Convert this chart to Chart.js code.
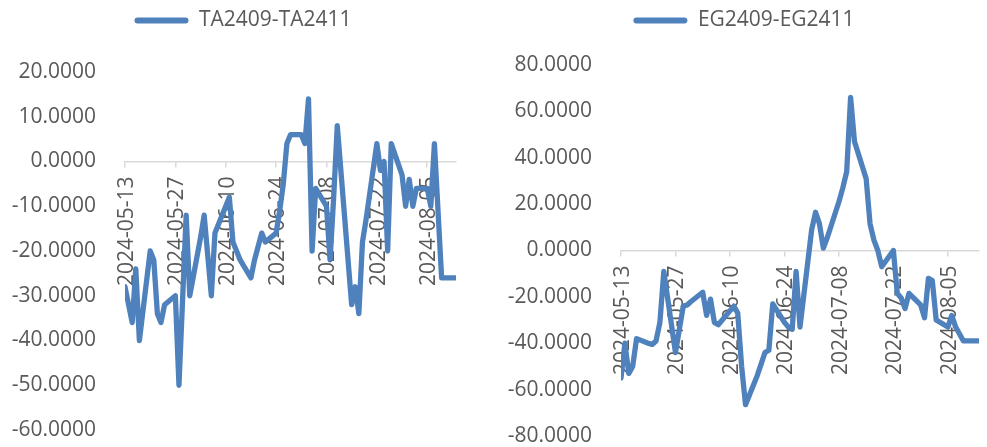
<!DOCTYPE html>
<html>
<head>
<meta charset="utf-8">
<script src="https://cdn.jsdelivr.net/npm/chart.js@4.4.1/dist/chart.umd.min.js"></script>
<style>
  html, body { margin: 0; padding: 0; background: #ffffff; }
  body { width: 987px; height: 447px; position: relative; overflow: hidden; }
  canvas { position: absolute; top: 0; }
</style>
</head>
<body>
<canvas id="left" width="486" height="447" style="left:0px"></canvas>
<canvas id="right" width="486" height="447" style="left:501px"></canvas>
<script>
// ---- data ----
const dates = [
  '2024-05-13','2024-05-14','2024-05-15','2024-05-16','2024-05-17',
  '2024-05-20','2024-05-21','2024-05-22','2024-05-23','2024-05-24',
  '2024-05-27','2024-05-28','2024-05-29','2024-05-30','2024-05-31',
  '2024-06-03','2024-06-04','2024-06-05','2024-06-06','2024-06-07',
  '2024-06-11','2024-06-12','2024-06-13','2024-06-14',
  '2024-06-17','2024-06-18','2024-06-19','2024-06-20','2024-06-21',
  '2024-06-24','2024-06-25','2024-06-26','2024-06-27','2024-06-28',
  '2024-07-01','2024-07-02','2024-07-03','2024-07-04','2024-07-05',
  '2024-07-08','2024-07-09','2024-07-10','2024-07-11','2024-07-12',
  '2024-07-15','2024-07-16','2024-07-17','2024-07-18','2024-07-19',
  '2024-07-22','2024-07-23','2024-07-24','2024-07-25','2024-07-26',
  '2024-07-29','2024-07-30','2024-07-31','2024-08-01','2024-08-02',
  '2024-08-05','2024-08-06','2024-08-07','2024-08-08','2024-08-09',
  '2024-08-12','2024-08-13'
];
const taName = 'TA2409-TA2411';
const taValues = [
  -28, -32, -36, -24, -40,
  -20, -22, -34, -36, -32,
  -30, -50, -31, -12, -30,
  -17, -12, -21, -30, -16,
  -8, -18, -20, -22,
  -26, -22, -19, -16, -18,
  -16, -11, -5, 4, 6,
  6, 4, 14, -20, -6,
  -10, -22, -8, 8, -2,
  -32, -28, -34, -18, -13,
  4, -2, 0, -20, 4,
  -3, -10, -4, -10, -6,
  -6, -10, 4, -11, -26,
  -26, -26
];
const egName = 'EG2409-EG2411';
const egValues = [
  -55, -40, -53, -50, -38,
  -40, -40.5, -39, -31, -9,
  -44, -34, -24, -23.5, -22,
  -18, -28, -21, -31, -32,
  -24, -27, -50, -66.5,
  -54, -49, -44, -43, -23,
  -31, -33, -34, -9, -33,
  9, 16.5, 11.5, 1, 5.5,
  21, 27, 34, 66, 47,
  31, 11.5, 4.5, 0, -7,
  0, -18.5, -20.5, -25, -18.5,
  -23.5, -29, -12, -13, -30,
  -33, -28, -33, -36, -39,
  -39, -39
];
const startDate = '2024-05-13';
const endDate = '2024-08-13';
const xTickStepDays = 14;
const taTicks = { min: -60, max: 20, step: 10 };
const egTicks = { min: -80, max: 80, step: 20 };

// ---- helpers ----
const DAY = 86400000;
function dayIndex(s) {
  const [y, m, d] = s.split('-').map(Number);
  const [y0, m0, d0] = startDate.split('-').map(Number);
  return Math.round((Date.UTC(y, m - 1, d) - Date.UTC(y0, m0 - 1, d0)) / DAY);
}
function dayLabel(v) {
  const [y0, m0, d0] = startDate.split('-').map(Number);
  return new Date(Date.UTC(y0, m0 - 1, d0) + v * DAY).toISOString().slice(0, 10);
}
const BLUE = '#4f81bd';
const TEXT = '#595959';
const AXIS = '#d9d9d9';
const FONT = "'Open Sans', 'Noto Sans', sans-serif";

function makeChart(id, name, values, yt, opts) {
  const pts = dates.map((d, i) => ({ x: dayIndex(d), y: values[i] }));
  return new Chart(document.getElementById(id), {
    type: 'line',
    data: {
      datasets: [{
        label: name,
        data: pts,
        xAxisID: 'x',
        yAxisID: 'y',
        borderColor: BLUE,
        backgroundColor: BLUE,
        borderWidth: 5.3,
        borderCapStyle: 'round',
        borderJoinStyle: 'round',
        pointRadius: 0,
        pointHoverRadius: 0,
        tension: 0,
        fill: false
      }]
    },
    options: {
      responsive: false,
      animation: false,
      events: [],
      layout: { padding: opts.padding },
      plugins: {
        tooltip: { enabled: false },
        legend: {
          display: true,
          position: 'top',
          labels: {
            font: { family: FONT, size: 21 },
            color: TEXT,
            boxWidth: 54,
            boxHeight: 6,
            padding: 10,
            useBorderRadius: true,
            borderRadius: 3,
            generateLabels: (chart) =>
              Chart.defaults.plugins.legend.labels.generateLabels(chart).map(l =>
                Object.assign(l, { lineWidth: 0, fillStyle: BLUE, strokeStyle: BLUE }))
          }
        }
      },
      scales: {
        x: {
          type: 'linear',
          position: { y: 0 },
          min: 0,
          max: dayIndex(endDate),
          grid: {
            display: true,
            drawOnChartArea: false,
            drawTicks: true,
            tickLength: 5,
            color: AXIS,
            lineWidth: 1.5
          },
          border: { display: true, color: AXIS, width: 1.5 },
          ticks: {
            stepSize: xTickStepDays,
            includeBounds: false,
            autoSkip: false,
            maxRotation: 90,
            minRotation: 90,
            padding: 10,
            labelOffset: 2,
            color: TEXT,
            font: { family: FONT, size: 21 },
            callback: (v) => dayLabel(v)
          }
        },
        y: {
          type: 'linear',
          position: 'left',
          min: yt.min,
          max: yt.max,
          grid: { display: false, drawTicks: true, tickLength: 29 },
          border: { display: false },
          ticks: {
            stepSize: yt.step,
            padding: 0,
            color: TEXT,
            font: { family: FONT, size: 21, lineHeight: 1 },
            callback: (v) => Number(v).toFixed(4)
          },
          afterFit: (s) => { s.width = opts.yWidth; }
        },
        spacerTop: {
          type: 'linear',
          axis: 'x',
          position: 'top',
          display: true,
          grid: { display: false, drawTicks: false },
          border: { display: false },
          ticks: { display: false },
          afterFit: (s) => { s.height = opts.spacerTop; }
        },
        spacerRight: {
          type: 'linear',
          axis: 'y',
          position: 'right',
          display: true,
          grid: { display: false, drawTicks: false },
          border: { display: false },
          ticks: { display: false },
          afterFit: (s) => { s.width = opts.spacerRight; }
        }
      }
    }
  });
}

makeChart('left', taName, taValues, taTicks,
  { padding: { left: 0, right: 0, top: 0, bottom: 17 }, spacerTop: 31, spacerRight: 30, yWidth: 125 });
makeChart('right', egName, egValues, egTicks,
  { padding: { left: 0, right: 0, top: 0, bottom: 11 }, spacerTop: 24, spacerRight: 8, yWidth: 120 });
</script>
</body>
</html>
